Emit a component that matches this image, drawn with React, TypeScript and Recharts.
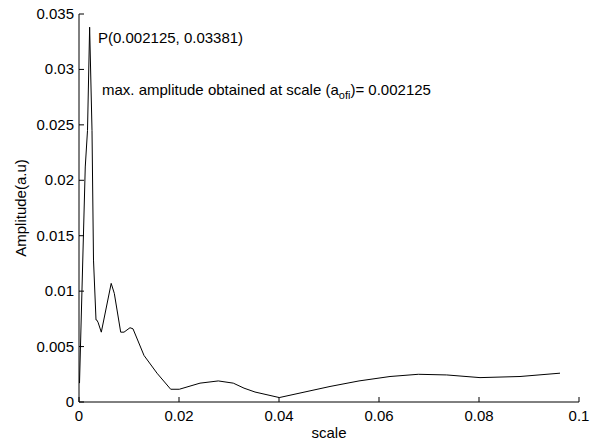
import React from "react";
import { LineChart, Line, XAxis, YAxis } from "recharts";

// values
const scaleVals = [
  0.0001, 0.00125, 0.0017, 0.002125, 0.0026, 0.0029, 0.0034, 0.00354, 0.0038, 0.00446,
  0.00644, 0.00706, 0.00834, 0.009, 0.0102, 0.0108, 0.013, 0.0156, 0.01834, 0.02006,
  0.0242, 0.02786, 0.03086, 0.033, 0.0352, 0.04006, 0.0502, 0.056, 0.0622, 0.06786,
  0.07354, 0.0802, 0.0882, 0.0962,
];
const amplitudeVals = [
  0.0017, 0.0212, 0.0245, 0.03381, 0.0245, 0.0128, 0.0074, 0.0074, 0.0072, 0.0063,
  0.0107, 0.0098, 0.0063, 0.0063, 0.0067, 0.0066, 0.0042, 0.0026, 0.00115, 0.00115,
  0.0017, 0.0019, 0.0017, 0.00125, 0.0009, 0.0004, 0.0014, 0.0019, 0.0023, 0.0025,
  0.00244, 0.0022, 0.0023, 0.0026,
];
const xTicks = [0, 0.02, 0.04, 0.06, 0.08, 0.1];
const xTickLabels = ["0", "0.02", "0.04", "0.06", "0.08", "0.1"];
const yTicks = [0, 0.005, 0.01, 0.015, 0.02, 0.025, 0.03, 0.035];
const yTickLabels = ["0", "0.005", "0.01", "0.015", "0.02", "0.025", "0.03", "0.035"];

const data = scaleVals.map((s, i) => ({ scale: s, amp: amplitudeVals[i] }));

const FONT = "'Liberation Sans', Arial, Helvetica, sans-serif";
const FS = 15;
const TICK = 5;

const label = (ticks: number[], labels: string[], v: number) => {
  const i = ticks.findIndex((t) => Math.abs(t - v) < 1e-9);
  return i >= 0 ? labels[i] : String(v);
};

const BottomTick = (p: any) => (
  <g>
    <line x1={p.x} x2={p.x} y1={p.y} y2={p.y - TICK} stroke="#000" />
    <text x={p.x} y={p.y + 19} textAnchor="middle" fontSize={FS} fontFamily={FONT} fill="#000">
      {label(xTicks, xTickLabels, p.payload.value)}
    </text>
  </g>
);
const TopTick = (p: any) => (
  <line x1={p.x} x2={p.x} y1={p.y} y2={p.y + TICK} stroke="#000" />
);
const LeftTick = (p: any) => (
  <g>
    <line x1={p.x} x2={p.x + TICK} y1={p.y} y2={p.y} stroke="#000" />
    <text x={p.x - 5} y={p.y + 5} textAnchor="end" fontSize={FS} fontFamily={FONT} fill="#000">
      {label(yTicks, yTickLabels, p.payload.value)}
    </text>
  </g>
);
const RightTick = (p: any) => (
  <line x1={p.x} x2={p.x - TICK} y1={p.y} y2={p.y} stroke="#000" />
);

export default function App() {
  return (
    <div style={{ position: "absolute", left: 0, top: 0, background: "#fff" }}>
      <LineChart width={603} height={444} data={data} margin={{ top: 14, right: 24, bottom: 0, left: 0 }}>
        <XAxis
          xAxisId="b"
          dataKey="scale"
          type="number"
          domain={[0, 0.1]}
          ticks={xTicks}
          interval={0}
          height={42}
          tickSize={0}
          tickMargin={0}
          tick={<BottomTick />}
          axisLine={{ stroke: "#000" }}
        />
        <XAxis
          xAxisId="t"
          orientation="top"
          dataKey="scale"
          type="number"
          domain={[0, 0.1]}
          ticks={xTicks}
          interval={0}
          height={0}
          tickSize={0}
          tickMargin={0}
          tick={<TopTick />}
          axisLine={{ stroke: "#000" }}
        />
        <YAxis
          yAxisId="l"
          type="number"
          domain={[0, 0.035]}
          ticks={yTicks}
          interval={0}
          width={79}
          tickSize={0}
          tickMargin={0}
          tick={<LeftTick />}
          axisLine={{ stroke: "#000" }}
        />
        <YAxis
          yAxisId="r"
          orientation="right"
          type="number"
          domain={[0, 0.035]}
          ticks={yTicks}
          interval={0}
          width={0}
          tickSize={0}
          tickMargin={0}
          tick={<RightTick />}
          axisLine={{ stroke: "#000" }}
        />
        <Line
          xAxisId="b"
          yAxisId="l"
          type="linear"
          dataKey="amp"
          stroke="#000"
          strokeWidth={1}
          dot={false}
          isAnimationActive={false}
        />
        <text x={98} y={43} fontSize={FS} fontFamily={FONT} fill="#000">
          P(0.002125, 0.03381)
        </text>
        <text x={102} y={95} fontSize={FS} fontFamily={FONT} fill="#000">
          max. amplitude obtained at scale (a
          <tspan fontSize={11} dy={4}>ofi</tspan>
          <tspan dy={-4}>)= 0.002125</tspan>
        </text>
        <text x={329} y={438} textAnchor="middle" fontSize={FS} fontFamily={FONT} fill="#000">
          scale
        </text>
        <text
          x={26}
          y={208}
          textAnchor="middle"
          fontSize={FS}
          fontFamily={FONT}
          fill="#000"
          transform="rotate(-90 26 208)"
        >
          Amplitude(a.u)
        </text>
      </LineChart>
    </div>
  );
}
